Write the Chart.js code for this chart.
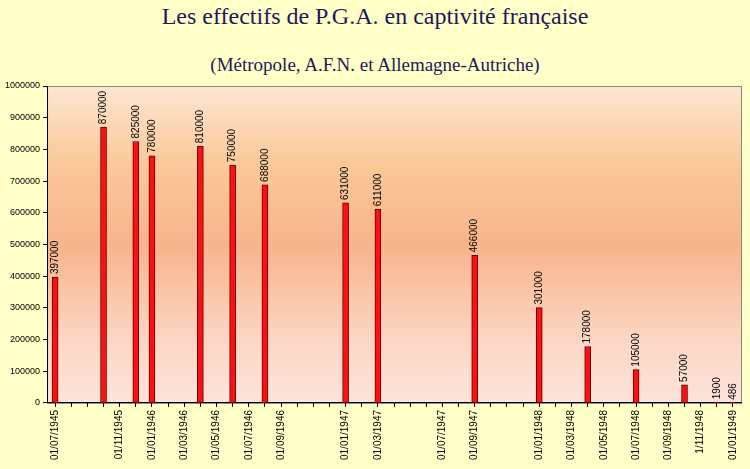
<!DOCTYPE html>
<html><head><meta charset="utf-8">
<script src="https://cdn.jsdelivr.net/npm/chart.js@4"></script>
<style>
html,body{margin:0;padding:0;background:#ffffc8;}
#wrap{position:relative;width:750px;height:469px;}
h1{position:absolute;top:3px;left:0;width:750px;text-align:center;margin:0;font:24px "Liberation Serif",serif;color:#1c1a5c;}
h2{position:absolute;top:54px;left:0;width:750px;text-align:center;margin:0;font:19px "Liberation Serif",serif;color:#1c1a5c;}
canvas{position:absolute;left:0;top:0;}
</style></head><body>
<div id="wrap">
<h1>Les effectifs de P.G.A. en captivité française</h1>
<h2>(Métropole, A.F.N. et Allemagne-Autriche)</h2>
<canvas id="c" width="750" height="469"></canvas>
</div>
<script>
const months = [];
for (let i = 0; i < 43; i++) { const m = (6 + i) % 12 + 1, y = 1945 + Math.floor((6 + i) / 12); months.push((m<10?'0':'')+m+'/'+y); }
const tickLabels = {"07/1945":"01/07/1945","11/1945":"01/11/1945","01/1946":"01/01/1946","03/1946":"01/03/1946","05/1946":"01/05/1946","07/1946":"01/07/1946","09/1946":"01/09/1946","01/1947":"01/01/1947","03/1947":"01/03/1947","07/1947":"01/07/1947","09/1947":"01/09/1947","01/1948":"01/01/1948","03/1948":"01/03/1948","05/1948":"01/05/1948","07/1948":"01/07/1948","09/1948":"01/09/1948","11/1948":"1/11/1948","01/1949":"01/01/1949"};
const obsMonths = ["07/1945","10/1945","12/1945","01/1946","04/1946","06/1946","08/1946","01/1947","03/1947","09/1947","01/1948","04/1948","07/1948","10/1948","12/1948","01/1949"];
const obsValues = [397000,870000,825000,780000,810000,750000,688000,631000,611000,466000,301000,178000,105000,57000,1900,486];
const values = months.map(m => { const i = obsMonths.indexOf(m); return i < 0 ? null : obsValues[i]; });

const bgPlugin = {id:'bg', beforeDraw(ch){const a=ch.chartArea,c=ch.ctx;const g=c.createLinearGradient(0,a.top,0,a.bottom);
g.addColorStop(0,'#fde6d2');g.addColorStop(0.25,'#fbc898');g.addColorStop(0.5,'#f8b48a');g.addColorStop(0.8,'#fcd6c4');g.addColorStop(1,'#fde4dc');
c.save();c.fillStyle=g;c.fillRect(a.left,a.top,a.right-a.left,a.bottom-a.top);c.strokeStyle='#888';c.lineWidth=1;c.strokeRect(a.left+0.5,a.top+0.5,a.right-a.left,a.bottom-a.top);c.restore();}};
const lblPlugin = {id:'lbl', afterDatasetsDraw(ch){const c=ch.ctx;const meta=ch.getDatasetMeta(0);c.save();c.font='10px "Liberation Sans",Arial';c.fillStyle='#000';c.textBaseline='middle';
meta.data.forEach((b,i)=>{const v=values[i];if(v==null)return;c.save();c.translate(b.x,b.y-3);c.rotate(-Math.PI/2);c.fillText(String(v),0,0);c.restore();});c.restore();}};

new Chart(document.getElementById('c'),{type:'bar',
data:{labels:months,datasets:[{data:values,backgroundColor:'#ff1010',borderColor:'#600000',borderWidth:1,barThickness:6}]},
options:{responsive:false,animation:false,layout:{padding:{top:86,left:2,right:9,bottom:6}},
plugins:{legend:{display:false},tooltip:{enabled:false}},
scales:{
x:{offset:true,grid:{display:true,drawOnChartArea:false,tickLength:4,color:'#000',offset:false},border:{color:'#000'},
ticks:{autoSkip:false,maxRotation:90,minRotation:90,font:{size:10,family:'"Liberation Sans",Arial'},color:'#000',callback:(v,i)=>tickLabels[months[i]]||''}},
y:{min:0,max:1000000,ticks:{stepSize:100000,font:{size:9,family:'"Liberation Sans",Arial'},color:'#000',callback:v=>String(v)},grid:{drawOnChartArea:false,tickLength:4,color:'#000'},border:{color:'#000'}}
}},
plugins:[bgPlugin,lblPlugin]});
</script>
</body></html>
